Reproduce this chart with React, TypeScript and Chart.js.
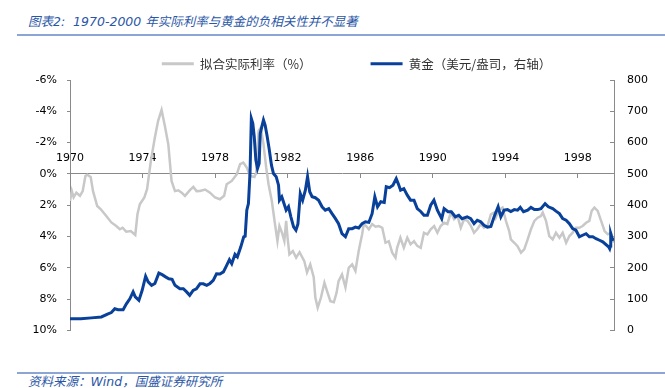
import React, { useEffect, useRef } from 'react';
import { Chart, registerables } from 'chart.js';

Chart.register(...registerables);

const titleText = '图表2:  1970-2000 年实际利率与黄金的负相关性并不显著';
const sourceText = '资料来源：Wind，国盛证券研究所';
const seriesNames = ['拟合实际利率（%）', '黄金（美元/盎司，右轴）'];

const xTickYears = [1970, 1974, 1978, 1982, 1986, 1990, 1994, 1998];
const leftTicks = [-6, -4, -2, 0, 2, 4, 6, 8, 10];
const rightTicks = [0, 100, 200, 300, 400, 500, 600, 700, 800];

const rateYears = [
  1970.0, 1970.1, 1970.2, 1970.35, 1970.55, 1970.7, 1970.85, 1970.95, 1971.14, 1971.27,
  1971.5, 1971.7, 1972.0, 1972.28, 1972.55, 1972.75, 1972.9, 1973.1, 1973.35, 1973.6,
  1973.72, 1973.85, 1974.1, 1974.25, 1974.46, 1974.68, 1974.86, 1975.05, 1975.23, 1975.42,
  1975.6, 1975.79, 1975.97, 1976.16, 1976.34, 1976.6, 1976.8, 1976.98, 1977.17, 1977.45,
  1977.72, 1978.0, 1978.27, 1978.5, 1978.64, 1978.92, 1979.2, 1979.38, 1979.56, 1979.75,
  1979.93, 1980.17, 1980.27, 1980.4, 1980.52, 1980.67, 1980.82, 1980.95, 1981.13, 1981.32,
  1981.44, 1981.55, 1981.69, 1981.82, 1981.92, 1982.0, 1982.1, 1982.29, 1982.47, 1982.66,
  1982.92, 1983.07, 1983.25, 1983.44, 1983.53, 1983.66, 1983.84, 1984.03, 1984.18, 1984.36,
  1984.55, 1984.7, 1984.81, 1985.0, 1985.19, 1985.37, 1985.56, 1985.74, 1985.92, 1986.11,
  1986.2, 1986.33, 1986.48, 1986.66, 1986.85, 1987.03, 1987.22, 1987.4, 1987.58, 1987.77,
  1987.95, 1988.04, 1988.22, 1988.41, 1988.6, 1988.78, 1988.97, 1989.15, 1989.34, 1989.52,
  1989.71, 1989.89, 1990.08, 1990.26, 1990.44, 1990.63, 1990.81, 1991.0, 1991.18, 1991.37,
  1991.55, 1991.73, 1991.92, 1992.1, 1992.28, 1992.46, 1992.65, 1992.83, 1993.02, 1993.21,
  1993.39, 1993.48, 1993.66, 1993.85, 1994.04, 1994.22, 1994.31, 1994.5, 1994.68, 1994.87,
  1995.05, 1995.24, 1995.42, 1995.61, 1995.79, 1995.97, 1996.07, 1996.25, 1996.43, 1996.62,
  1996.8, 1996.99, 1997.17, 1997.36, 1997.54, 1997.72, 1997.9, 1998.09, 1998.27, 1998.46,
  1998.64, 1998.77, 1998.92, 1999.1, 1999.29, 1999.48, 1999.66, 1999.84, 2000.0,
];
const rateValues = [
  1.73, 1.09, 1.5, 1.2, 1.4, 1.1, 0.13, 0.05, 0.2, 1.1,
  2.05, 2.26, 2.69, 3.1, 3.33, 3.54, 3.44, 3.69, 3.65, 3.9,
  2.58, 1.94, 1.5, 0.98, -0.83, -2.32, -3.39, -4.08, -3.07, -1.9,
  0.45, 1.1, 1.05, 1.2, 1.4, 1.05, 0.83, 1.1, 1.09, 1.0,
  1.2, 1.51, 1.62, 1.4, 0.66, 0.45, 0.02, -0.62, -0.72, -0.4,
  0.13, 0.2, -0.08, -2.75, -2.96, -1.9, -0.4, 0.66, 1.73, 3.33,
  4.29, 3.33, 3.76, 4.29, 3.0, 4.1, 5.14, 4.93, 5.35, 5.0,
  5.57, 6.3, 5.78, 6.6, 7.9, 8.55, 7.9, 6.95, 7.5, 8.13,
  8.2, 7.6, 6.85, 6.42, 7.25, 6.0, 5.78, 6.2, 4.93, 3.86,
  3.2, 3.33, 3.54, 3.2, 3.37, 3.33, 3.44, 4.4, 4.3, 5.03,
  5.35, 4.72, 4.08, 4.72, 4.08, 4.5, 4.3, 4.6, 4.72, 3.76,
  3.86, 3.54, 3.33, 3.76, 3.33, 3.12, 3.2, 2.47, 2.9, 2.69,
  3.44, 2.9, 3.0, 3.3, 3.76, 3.54, 3.2, 3.44, 3.33, 2.58,
  2.47, 2.8, 2.3, 2.15, 3.0, 3.65, 4.18, 4.4, 4.62, 5.03,
  4.82, 4.18, 3.54, 3.0, 2.8, 2.69, 2.47, 3.0, 3.97, 4.18,
  3.76, 4.08, 3.76, 4.4, 3.97, 3.76, 3.44, 3.44, 3.33, 3.12,
  3.0, 2.36, 2.15, 2.36, 3.0, 3.65, 3.86, 3.76, 4.4,
];

const goldYears = [
  1970.0, 1970.6, 1971.18, 1971.73, 1972.1, 1972.28, 1972.47, 1972.65, 1972.93, 1973.11,
  1973.3, 1973.48, 1973.6, 1973.8, 1973.98, 1974.17, 1974.31, 1974.5, 1974.68, 1974.9,
  1975.08, 1975.27, 1975.45, 1975.63, 1975.79, 1976.06, 1976.25, 1976.43, 1976.6, 1976.79,
  1976.97, 1977.17, 1977.35, 1977.54, 1977.72, 1977.9, 1978.08, 1978.27, 1978.46, 1978.64,
  1978.79, 1978.92, 1979.1, 1979.23, 1979.42, 1979.58, 1979.66, 1979.75, 1979.84, 1979.93,
  1980.0, 1980.08, 1980.16, 1980.25, 1980.34, 1980.43, 1980.49, 1980.58, 1980.67, 1980.76,
  1980.86, 1980.98, 1981.11, 1981.22, 1981.37, 1981.5, 1981.55, 1981.68, 1981.77, 1981.92,
  1982.05, 1982.18, 1982.33, 1982.46, 1982.57, 1982.7, 1982.83, 1982.98, 1983.1, 1983.22,
  1983.35, 1983.53, 1983.71, 1983.9, 1984.08, 1984.27, 1984.45, 1984.63, 1984.81, 1985.0,
  1985.19, 1985.37, 1985.56, 1985.74, 1985.92, 1986.11, 1986.29, 1986.48, 1986.66, 1986.81,
  1986.96, 1987.14, 1987.33, 1987.44, 1987.62, 1987.81, 1987.99, 1988.1, 1988.23, 1988.41,
  1988.6, 1988.78, 1988.97, 1989.15, 1989.34, 1989.52, 1989.71, 1989.89, 1990.07, 1990.26,
  1990.5, 1990.63, 1990.85, 1991.03, 1991.25, 1991.44, 1991.62, 1991.9, 1992.1, 1992.28,
  1992.46, 1992.65, 1992.83, 1993.02, 1993.21, 1993.39, 1993.61, 1993.76, 1993.94, 1994.13,
  1994.31, 1994.5, 1994.68, 1994.83, 1995.01, 1995.24, 1995.42, 1995.61, 1995.79, 1995.97,
  1996.2, 1996.38, 1996.62, 1996.8, 1996.99, 1997.17, 1997.36, 1997.54, 1997.72, 1997.9,
  1998.09, 1998.27, 1998.46, 1998.64, 1998.83, 1999.01, 1999.2, 1999.38, 1999.7, 1999.76,
  1999.8, 1999.82, 1999.9, 2000.0,
];
const goldValues = [
  37, 37, 40, 43, 53, 57, 69, 66, 66, 85,
  101, 123, 107, 96, 128, 173, 155, 144, 150, 183,
  178, 171, 165, 163, 144, 133, 133, 123, 112, 128,
  133, 149, 149, 144, 150, 160, 181, 180, 187, 208,
  226, 213, 243, 235, 267, 299, 301, 384, 405, 507,
  677, 662, 619, 544, 517, 533, 629, 651, 672, 656,
  624, 581, 528, 501, 491, 464, 416, 427, 411, 384,
  395, 363, 331, 320, 340, 437, 416, 448, 491, 443,
  427, 424, 416, 395, 384, 389, 373, 358, 341, 309,
  299, 325, 325, 330, 327, 341, 347, 345, 373, 427,
  395, 411, 409, 459, 456, 464, 485, 469, 448, 453,
  432, 416, 416, 389, 380, 368, 368, 400, 416, 384,
  357, 389, 379, 379, 363, 368, 357, 363, 357, 341,
  352, 347, 336, 330, 332, 363, 395, 363, 384, 386,
  380, 386, 384, 393, 379, 384, 393, 386, 386, 389,
  405, 395, 389, 381, 373, 357, 352, 341, 325, 320,
  299, 304, 309, 299, 299, 293, 288, 283, 267, 261,
  270, 309, 293, 288,
];

const GRAY = '#c8c8c8';
const BLUE = '#08409a';
const AXIS = '#8a8a8a';
const TICK_FONT = { family: '"DejaVu Sans", sans-serif', size: 11 };

export default function App() {
  const ref = useRef<HTMLCanvasElement | null>(null);

  useEffect(() => {
    if (!ref.current) return;
    const chart = new Chart(ref.current, {
      type: 'line',
      data: {
        datasets: [
          {
            label: seriesNames[0],
            data: rateYears.map((x, i) => ({ x, y: rateValues[i] })),
            yAxisID: 'y',
            borderColor: GRAY,
            backgroundColor: GRAY,
            borderWidth: 2.5,
            pointRadius: 0,
            tension: 0,
            order: 1,
          },
          {
            label: seriesNames[1],
            data: goldYears.map((x, i) => ({ x, y: goldValues[i] })),
            yAxisID: 'y1',
            borderColor: BLUE,
            backgroundColor: BLUE,
            borderWidth: 3,
            pointRadius: 0,
            tension: 0,
            order: 0,
          },
        ],
      },
      options: {
        animation: false,
        responsive: false,
        maintainAspectRatio: false,
        layout: { padding: { top: -1.5, left: 0, right: -48, bottom: 0 } },
        plugins: {
          tooltip: { enabled: false },
          legend: {
            position: 'top',
            labels: {
              boxWidth: 32,
              boxHeight: 3,
              padding: 59,
              color: '#333',
              font: { family: '"Noto Sans CJK SC", sans-serif', size: 12.5 },
              generateLabels: (c: any) =>
                c.data.datasets.map((ds: any, i: number) => ({
                  text: ds.label,
                  fillStyle: ds.borderColor,
                  strokeStyle: ds.borderColor,
                  lineWidth: 0,
                  hidden: false,
                  datasetIndex: i,
                  fontColor: '#333',
                })),
            },
          },
        },
        scales: {
          x: {
            type: 'linear',
            min: 1970,
            max: 2000,
            position: { y: 0 } as any,
            afterBuildTicks: (s: any) => {
              s.ticks = xTickYears.map((v) => ({ value: v }));
            },
            ticks: {
              callback: (v: any) => String(v),
              padding: -26,
              maxRotation: 0,
              autoSkip: false,
              color: '#000',
              font: TICK_FONT,
            },
            grid: { drawOnChartArea: false, drawTicks: true, tickLength: 4, color: AXIS },
            border: { color: AXIS, width: 1 },
          },
          y: {
            type: 'linear',
            position: 'left',
            reverse: true,
            min: -6,
            max: 10,
            afterBuildTicks: (s: any) => {
              s.ticks = leftTicks.map((v) => ({ value: v }));
            },
            afterFit: (s: any) => {
              s.width = 70;
            },
            ticks: {
              callback: (v: any) => v + '%',
              padding: 10,
              color: '#000',
              font: TICK_FONT,
            },
            grid: { drawOnChartArea: false, drawTicks: true, tickLength: 3, color: AXIS },
            border: { color: AXIS, width: 1 },
          },
          y1: {
            type: 'linear',
            position: 'right',
            min: 0,
            max: 800,
            afterBuildTicks: (s: any) => {
              s.ticks = rightTicks.map((v) => ({ value: v }));
            },
            afterFit: (s: any) => {
              s.width = 99;
            },
            ticks: {
              callback: (v: any) => String(v),
              padding: 17,
              color: '#000',
              font: TICK_FONT,
            },
            grid: { drawOnChartArea: false, drawTicks: true, tickLength: -4, color: AXIS },
            border: { color: AXIS, width: 1 },
          },
        },
      },
    });
    return () => chart.destroy();
  }, []);

  return (
    <div style={{ position: 'absolute', left: 0, top: 0, width: 665, height: 388, background: '#fff', overflow: 'hidden' }}>
      <div
        style={{
          position: 'absolute',
          left: 28,
          top: 13,
          lineHeight: '18px',
          whiteSpace: 'pre',
          fontStyle: 'italic',
          fontSize: 12.5,
          fontFamily: '"DejaVu Sans", "Noto Sans CJK SC", sans-serif',
          color: '#2a56a6',
        }}
      >
        {titleText}
      </div>
      <div style={{ position: 'absolute', left: 17, top: 34, width: 648, height: 2, background: '#8da5d3' }} />
      <canvas ref={ref} width={665} height={354} style={{ position: 'absolute', left: 0, top: 0 }} />
      <div style={{ position: 'absolute', left: 17, top: 372, width: 648, height: 2, background: '#8da5d3' }} />
      <div
        style={{
          position: 'absolute',
          left: 28,
          top: 374,
          lineHeight: '16px',
          whiteSpace: 'pre',
          fontStyle: 'italic',
          fontSize: 12.5,
          fontFamily: '"DejaVu Sans", "Noto Sans CJK SC", sans-serif',
          color: '#2a56a6',
        }}
      >
        {sourceText}
      </div>
    </div>
  );
}
